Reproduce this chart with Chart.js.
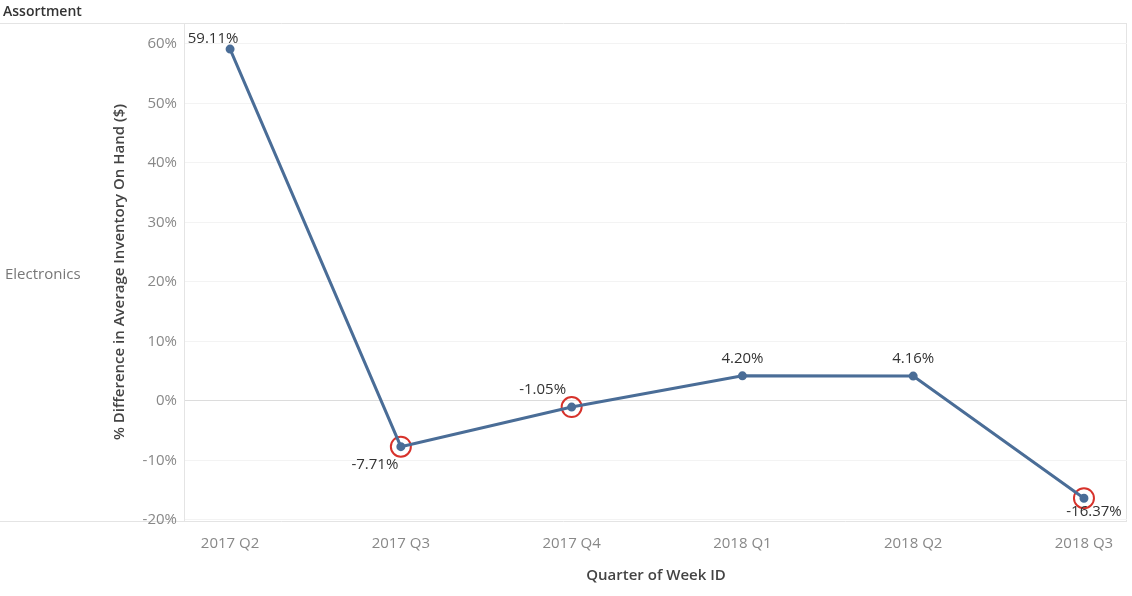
<!DOCTYPE html>
<html>
<head>
<meta charset="utf-8">
<script src="https://cdn.jsdelivr.net/npm/chart.js@4"></script>
<style>
  html, body { margin: 0; padding: 0; background: #fff; overflow: hidden; }
  #wrap { width: 1132px; height: 596px; position: relative; overflow: hidden; }
  canvas { display: block; }
</style>
</head>
<body>
<div id="wrap"><canvas id="chart" width="1139" height="596"></canvas></div>
<script>
// data
const quarters = ["2017 Q2", "2017 Q3", "2017 Q4", "2018 Q1", "2018 Q2", "2018 Q3"];
const pctDiff = [59.11, -7.71, -1.05, 4.20, 4.16, -16.37];
const highlighted = [false, true, true, false, false, true];
const yTicks = [-20, -10, 0, 10, 20, 30, 40, 50, 60];

// label placement (px offsets from the point)
const labelOffsets = [[-17, -10], [-26, 18], [-29, -17], [0, -17], [0, -17], [10, 14]];

const FONT = "'Open Sans', 'DejaVu Sans', sans-serif";
const lineColor = "#4a6d97";

const points = pctDiff.map((v, i) => ({ x: i, y: v }));

const framePlugin = {
  id: "frame",
  beforeDraw(chart) {
    const { ctx, chartArea: a } = chart;
    ctx.save();
    ctx.strokeStyle = "#e4e4e4";
    ctx.lineWidth = 1;
    ctx.beginPath();
    ctx.moveTo(0, a.top + 0.5); ctx.lineTo(a.right, a.top + 0.5);
    ctx.moveTo(0, a.bottom + 0.5); ctx.lineTo(a.right, a.bottom + 0.5);
    ctx.moveTo(a.right - 0.5, a.top); ctx.lineTo(a.right - 0.5, a.bottom);
    ctx.moveTo(a.left - 0.5, a.top); ctx.lineTo(a.left - 0.5, a.bottom);
    ctx.stroke();

    ctx.fillStyle = "#333";
    ctx.font = "600 14px " + FONT;
    ctx.textBaseline = "middle";
    ctx.fillText("Assortment", 3, 12);

    ctx.fillStyle = "#777";
    ctx.font = "15px " + FONT;
    ctx.fillText("Electronics", 5, 275);

    ctx.translate(120, (a.top + a.bottom) / 2);
    ctx.rotate(-Math.PI / 2);
    ctx.textAlign = "center";
    ctx.fillStyle = "#444";
    ctx.font = "600 15px " + FONT;
    ctx.fillText("% Difference in Average Inventory On Hand ($)", 0, 0);
    ctx.restore();
  },
  afterDatasetsDraw(chart) {
    const { ctx } = chart;
    const meta = chart.getDatasetMeta(0);
    ctx.save();
    ctx.font = "15px " + FONT;
    ctx.fillStyle = "#333";
    ctx.textAlign = "center";
    ctx.textBaseline = "middle";
    meta.data.forEach((pt, i) => {
      const [dx, dy] = labelOffsets[i];
      ctx.fillText(pctDiff[i].toFixed(2) + "%", pt.x + dx, pt.y + dy);
    });
    ctx.restore();
  }
};

new Chart(document.getElementById("chart"), {
  type: "line",
  data: {
    datasets: [
      {
        data: points,
        borderColor: lineColor,
        backgroundColor: lineColor,
        borderWidth: 3,
        pointRadius: 3,
        pointHoverRadius: 3,
        tension: 0
      },
      {
        data: points,
        showLine: false,
        pointRadius: highlighted.map(h => h ? 10 : 0),
        pointBorderColor: "#d7322b",
        pointBorderWidth: 2,
        pointBackgroundColor: "rgba(0,0,0,0)"
      }
    ]
  },
  options: {
    responsive: false,
    animation: false,
    layout: { padding: { left: 105, right: 6, top: 23, bottom: 0 } },
    plugins: { legend: { display: false }, tooltip: { enabled: false } },
    scales: {
      x: {
        type: "linear",
        min: -0.264,
        max: 5.252,
        afterBuildTicks: s => { s.ticks = quarters.map((q, i) => ({ value: i })); },
        afterFit: s => { s.height = 75; },
        grid: { display: false, drawTicks: false },
        border: { display: false },
        ticks: {
          padding: 14,
          color: "#888",
          font: { family: FONT, size: 15 },
          callback: v => quarters[v],
          maxRotation: 0,
          autoSkip: false
        },
        title: {
          display: true,
          text: "Quarter of Week ID",
          color: "#444",
          font: { family: FONT, size: 15, weight: "600" },
          padding: { top: 0, bottom: 11 }
        }
      },
      y: {
        min: -20.2,
        max: 63.5,
        afterBuildTicks: s => { s.ticks = yTicks.map(v => ({ value: v })); },
        afterFit: s => { s.width = 80; },
        grid: {
          drawTicks: false,
          color: c => c.tick && c.tick.value === 0 ? "#dcdcdc" : "#f3f3f3"
        },
        border: { display: false },
        ticks: {
          padding: 8,
          color: "#888",
          font: { family: FONT, size: 15 },
          callback: v => v + "%"
        }
      }
    }
  },
  plugins: [framePlugin]
});
</script>
</body>
</html>
